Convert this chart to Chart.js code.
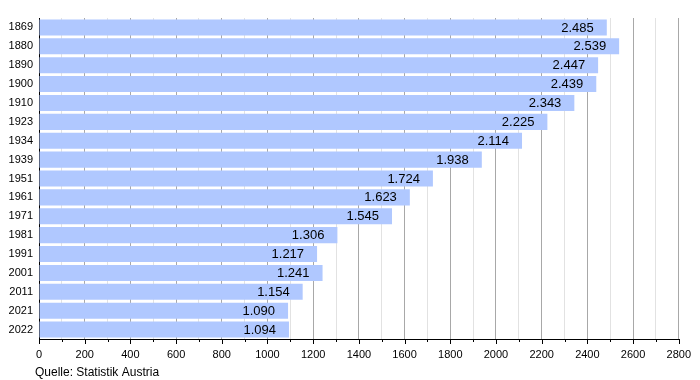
<!DOCTYPE html>
<html><head><meta charset="utf-8">
<script src="https://cdn.jsdelivr.net/npm/chart.js@4/dist/chart.umd.min.js"></script>
<style>html,body{margin:0;padding:0;background:#fff}#wrap{width:700px;height:380px}</style>
</head><body><div id="wrap"><canvas id="c" width="700" height="380"></canvas></div>
<script>
const years = ['1869','1880','1890','1900','1910','1923','1934','1939','1951','1961','1971','1981','1991','2001','2011','2021','2022'];
const population = [2485,2539,2447,2439,2343,2225,2114,1938,1724,1623,1545,1306,1217,1241,1154,1090,1094];
const xMin = 0, xMax = 2800, xStep = 100, xLabelStep = 200;
const sourceText = 'Quelle: Statistik Austria';
const FONT = "'Liberation Sans', Arial, sans-serif";

function fmt(v){ return String(v).replace(/\B(?=(\d{3})+(?!\d))/g, '.'); }

const labelsPlugin = {
  id: 'barLabels',
  afterDatasetsDraw(chart){
    const ctx = chart.ctx;
    const meta = chart.getDatasetMeta(0);
    ctx.save();
    ctx.font = '13px ' + FONT;
    ctx.fillStyle = '#000';
    ctx.textAlign = 'right';
    ctx.textBaseline = 'middle';
    meta.data.forEach((bar, i) => {
      ctx.fillText(fmt(population[i]), bar.x - 13, bar.y + 0.5);
    });
    ctx.restore();
  },
  afterDraw(chart){
    const ctx = chart.ctx;
    const xs = chart.scales.x;
    const y0 = chart.chartArea.bottom;
    ctx.save();
    ctx.strokeStyle = '#000';
    ctx.lineWidth = 1;
    for (let v = xMin; v <= xMax; v += xStep) {
      const px = Math.round(xs.getPixelForValue(v)) + 0.5;
      const len = (v % xLabelStep === 0) ? 5 : 3;
      ctx.beginPath(); ctx.moveTo(px, y0); ctx.lineTo(px, y0 + len); ctx.stroke();
    }
    ctx.font = '12px ' + FONT;
    ctx.fillStyle = '#000';
    ctx.textAlign = 'left';
    ctx.textBaseline = 'alphabetic';
    ctx.fillText(sourceText, 35, 376);
    ctx.restore();
  }
};

new Chart(document.getElementById('c'), {
  type: 'bar',
  data: { labels: years, datasets: [{ data: population, backgroundColor: '#b0c8ff', borderWidth: 0, barPercentage: 0.85, categoryPercentage: 1 }] },
  options: {
    indexAxis: 'y', responsive: false, animation: false, devicePixelRatio: 1,
    layout: { padding: { top: 18, right: 20, left: 0, bottom: 0 } },
    plugins: { legend: { display: false }, tooltip: { enabled: false } },
    scales: {
      x: {
        min: xMin, max: xMax,
        ticks: { stepSize: xStep, autoSkip: false, maxRotation: 0, padding: 9, color: '#000',
                 font: { family: FONT, size: 11 },
                 callback: v => (v % xLabelStep === 0 ? String(v) : '') },
        grid: { drawTicks: false, color: c => (c.tick && c.tick.value % xLabelStep === 0 ? '#a8a8a8' : '#e2e2e2') },
        border: { color: '#000', width: 1 },
        afterFit: s => { s.height = 41; }
      },
      y: {
        ticks: { color: '#000', font: { family: FONT, size: 11 }, padding: 6 },
        grid: { display: false, drawTicks: false },
        border: { color: '#000', width: 1 },
        afterFit: s => { s.width = 39; }
      }
    }
  },
  plugins: [labelsPlugin]
});
</script></body></html>
